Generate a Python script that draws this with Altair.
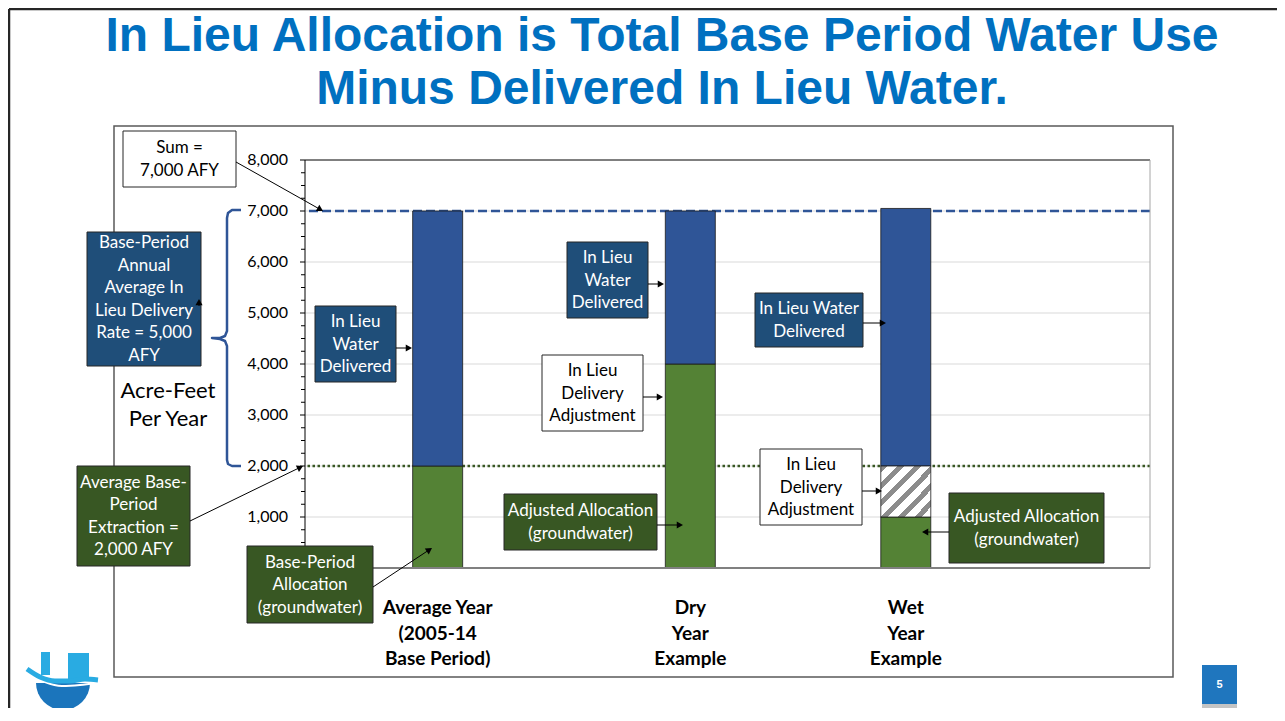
import math
import altair as alt
import pandas as pd

# ---------------- data ----------------
categories = ["Average Year", "Dry Year Example", "Wet Year Example"]
category_slot = [1.57, 4.56, 7.11]          # position of each bar on the x axis
groundwater_af = [2000, 4000, 1000]          # green (allocation, groundwater)
adjustment_af = [0, 0, 1000]                 # hatched (in lieu delivery adjustment)
in_lieu_af = [5000, 3000, 5050]              # blue (in lieu water delivered)
sum_afy = 7000
base_extraction_afy = 2000
y_tick_values = [0, 1000, 2000, 3000, 4000, 5000, 6000, 7000, 8000]
y_tick_labels = ["", "1,000", "2,000", "3,000", "4,000", "5,000", "6,000", "7,000", "8,000"]
minor_tick_values = [v for v in range(0, 8001, 250) if v % 1000 != 0]
x_label_lines = [["Average Year", "(2005-14", "Base Period)"],
                 ["Dry", "Year", "Example"],
                 ["Wet", "Year", "Example"]]
title_lines = ["In Lieu Allocation is Total Base Period Water Use",
               "Minus Delivered In Lieu Water."]

# ---------------- layout ----------------
PX0, PY0, PW, PH = 305, 160, 845, 408
XMAX, YMAX = 10.0, 8000.0
BAR_PX = 50
FONT = "Lato"

BAR_BLUE = "#2F5597"
BAR_GREEN = "#548235"
BOX_BLUE = "#1F4E79"
BOX_GREEN = "#385723"
TITLE_BLUE = "#0070C0"


def X(px):
    return (px - PX0) / PW * XMAX


def Y(py):
    return (PY0 + PH - py) / PH * YMAX


xs = alt.Scale(domain=[0, XMAX], nice=False, zero=False)
ys = alt.Scale(domain=[0, YMAX], nice=False, zero=False)


def ex(f):
    return alt.X(f"{f}:Q", scale=xs, axis=None)


def ey(f):
    return alt.Y(f"{f}:Q", scale=ys, axis=None)


half_w = BAR_PX / 2 / PW * XMAX

# ---- bars ----
rows = []
for c, s, g, a, l in zip(categories, category_slot, groundwater_af, adjustment_af, in_lieu_af):
    rows.append(dict(cat=c, part="green", x0=s - half_w, x1=s + half_w, y0=0, y1=g))
    if a > 0:
        rows.append(dict(cat=c, part="hatch", x0=s - half_w, x1=s + half_w, y0=g, y1=g + a))
    rows.append(dict(cat=c, part="blue", x0=s - half_w, x1=s + half_w, y0=g + a, y1=g + a + l))
bars_df = pd.DataFrame(rows)

solid_bars = alt.Chart(bars_df).transform_filter("datum.part != 'hatch'").mark_rect(
    stroke="#1a1a1a", strokeWidth=0.8
).encode(
    x=ex("x0"), x2="x1", y=ey("y0"), y2="y1",
    fill=alt.Fill("part:N", scale=alt.Scale(domain=["green", "blue"], range=[BAR_GREEN, BAR_BLUE]), legend=None),
)

stops = []
n_stripes = 6
for k in range(n_stripes):
    a0 = k / n_stripes
    a1 = (k + 0.42) / n_stripes
    a2 = (k + 1) / n_stripes
    stops += [alt.GradientStop(color="#8C8C8C", offset=a0), alt.GradientStop(color="#8C8C8C", offset=a1),
              alt.GradientStop(color="white", offset=a1), alt.GradientStop(color="white", offset=a2)]
hatch_fill = alt.Gradient(gradient="linear", stops=stops, x1=0, y1=0, x2=1, y2=1)
hatch_bars = alt.Chart(bars_df).transform_filter("datum.part == 'hatch'").mark_rect(
    fill=hatch_fill, stroke="#1a1a1a", strokeWidth=0.8
).encode(x=ex("x0"), x2="x1", y=ey("y0"), y2="y1")

# ---- y axis (drawn by hand: grid, ticks, labels, domain) ----
ytick_df = pd.DataFrame({"v": y_tick_values, "lab": y_tick_labels})
grid = alt.Chart(ytick_df).transform_filter("datum.v > 0 && datum.v < 8000").mark_rule(
    color="#D9D9D9", strokeWidth=1).encode(y=ey("v"))
major_ticks = alt.Chart(ytick_df).mark_rule(color="black", strokeWidth=1).encode(
    y=ey("v"), x=alt.value(-5), x2=alt.value(0))
minor_ticks = alt.Chart(pd.DataFrame({"v": minor_tick_values})).mark_rule(
    color="black", strokeWidth=1).encode(y=ey("v"), x=alt.value(-4), x2=alt.value(0))
y_labels = alt.Chart(ytick_df).mark_text(font=FONT, fontSize=16, color="black", align="right",
                                         baseline="middle").encode(
    y=ey("v"), x=alt.value(-17), text="lab:N")
y_domain = alt.Chart(pd.DataFrame({"a": [0], "b": [YMAX]})).mark_rule(color="black", strokeWidth=1).encode(
    x=alt.value(0), y=ey("a"), y2="b")

# ---- reference lines ----
sum_line = alt.Chart(pd.DataFrame({"v": [sum_afy]})).mark_rule(
    color=BAR_BLUE, strokeWidth=2.5, strokeDash=[9, 4]).encode(y=ey("v"))
base_line = alt.Chart(pd.DataFrame({"v": [base_extraction_afy]})).mark_rule(
    color=BOX_GREEN, strokeWidth=2.5, strokeDash=[2.5, 2.5]).encode(y=ey("v"))

top_border = alt.Chart(pd.DataFrame({"v": [YMAX]})).mark_rule(color="black", strokeWidth=1).encode(y=ey("v"))
bottom_border = alt.Chart(pd.DataFrame({"v": [0]})).mark_rule(color="#808080", strokeWidth=2).encode(y=ey("v"))
right_border = alt.Chart(pd.DataFrame({"v": [XMAX]})).mark_rule(color="#A6A6A6", strokeWidth=1).encode(x=ex("v"))

# ---- frames ----
frame_df = pd.DataFrame([dict(x0=X(114), x1=X(1173), y0=Y(126), y1=Y(677))])
frame = alt.Chart(frame_df).mark_rect(fill="white", fillOpacity=0, stroke="#595959", strokeWidth=1.5).encode(
    x=ex("x0"), x2="x1", y=ey("y0"), y2="y1")

slide_df = pd.DataFrame([
    dict(x0=X(9), y0=Y(9), x1=X(1285), y1=Y(9)),
    dict(x0=X(9), y0=Y(9), x1=X(9), y1=Y(721)),
])
slide_border = alt.Chart(slide_df).mark_rule(color="#262626", strokeWidth=2.5).encode(
    x=ex("x0"), x2="x1", y=ey("y0"), y2="y1")

# ---- annotation boxes ----
BOX_FS, BOX_LH = 17, 22.5
boxes = [
    (123, 131, 236, 187, "white", ["Sum =", "7,000 AFY"], "black"),
    (87, 232, 201, 366, BOX_BLUE, ["Base-Period", "Annual", "Average In", "Lieu Delivery", "Rate = 5,000", "AFY"], "white"),
    (77, 466, 190, 566, BOX_GREEN, ["Average Base-", "Period", "Extraction =", "2,000 AFY"], "white"),
    (247, 546, 373, 623, BOX_GREEN, ["Base-Period", "Allocation", "(groundwater)"], "white"),
    (315, 306, 396, 382, BOX_BLUE, ["In Lieu", "Water", "Delivered"], "white"),
    (567, 242, 648, 318, BOX_BLUE, ["In Lieu", "Water", "Delivered"], "white"),
    (542, 355, 643, 431, "white", ["In Lieu", "Delivery", "Adjustment"], "black"),
    (504, 494, 657, 550, BOX_GREEN, ["Adjusted Allocation", "(groundwater)"], "white"),
    (755, 293, 863, 347, BOX_BLUE, ["In Lieu Water", "Delivered"], "white"),
    (760, 449, 862, 525, "white", ["In Lieu", "Delivery", "Adjustment"], "black"),
    (949, 493, 1104, 563, BOX_GREEN, ["Adjusted Allocation", "(groundwater)"], "white"),
]
box_df = pd.DataFrame([dict(x0=X(b[0]), y0=Y(b[1]), x1=X(b[2]), y1=Y(b[3]), fill=b[4],
                            cx=X((b[0] + b[2]) / 2),
                            cy=Y((b[1] + b[3]) / 2 + 0.5 - (len(b[5]) - 1) * BOX_LH / 2),
                            txt="\n".join(b[5]), tc=b[6]) for b in boxes])
box_rects = alt.Chart(box_df).mark_rect(stroke="#262626", strokeWidth=1).encode(
    x=ex("x0"), x2="x1", y=ey("y0"), y2="y1", fill=alt.Fill("fill:N", scale=None))
box_texts = alt.Chart(box_df).mark_text(font=FONT, fontSize=BOX_FS, lineBreak="\n", lineHeight=BOX_LH,
                                        align="center", baseline="middle").encode(
    x=ex("cx"), y=ey("cy"), text="txt:N", color=alt.Color("tc:N", scale=None))

# ---- arrows ----
arrows = [
    (236, 162, 323, 211), (190, 521, 303, 466), (373, 587, 432, 548), (396, 348, 412, 348),
    (648, 284, 664, 284), (643, 397, 663, 397), (657, 525, 683, 525), (863, 323, 886, 323),
    (862, 491, 882, 491), (949, 532, 922, 532), (199, 306, 199, 299),
]
ARROW_SIZE = 52
r = math.sqrt(ARROW_SIZE) / 2
h = 0.866 * r
arrow_rows, head_rows = [], []
for x0, y0, x1, y1 in arrows:
    dx, dy = x1 - x0, y1 - y0
    L = math.hypot(dx, dy)
    ux, uy = dx / L, dy / L
    arrow_rows.append(dict(x0=X(x0), y0=Y(y0), x1=X(x1 - ux * 2), y1=Y(y1 - uy * 2)))
    ang = math.degrees(math.atan2(dx, -dy)) % 360
    head_rows.append(dict(hx=X(x1 - ux * h), hy=Y(y1 - uy * h), ang=ang))
arrow_lines = alt.Chart(pd.DataFrame(arrow_rows)).mark_rule(color="black", strokeWidth=1).encode(
    x=ex("x0"), x2="x1", y=ey("y0"), y2="y1")
arrow_heads = alt.Chart(pd.DataFrame(head_rows)).mark_point(
    shape="triangle-up", filled=True, color="black", size=ARROW_SIZE, opacity=1).encode(
    x=ex("hx"), y=ey("hy"), angle=alt.Angle("ang:Q", scale=None))

# ---- brace ----
brace_pts = [(241, 210), (232, 210), (228, 213), (227, 218), (227, 331), (225, 336), (220, 338), (212, 338),
             (220, 339), (225, 341), (227, 346), (227, 460), (228, 464), (232, 466), (241, 466)]
brace_df = pd.DataFrame([dict(o=i, bx=X(p[0]), by=Y(p[1])) for i, p in enumerate(brace_pts)])
brace = alt.Chart(brace_df).mark_line(color=BAR_BLUE, strokeWidth=2.5, strokeJoin="round").encode(
    x=ex("bx"), y=ey("by"), order="o:Q")

# ---- free texts ----
ACRE_LH = 28
acre_df = pd.DataFrame([dict(tx=X(168), ty=Y(391), txt="Acre-Feet\nPer Year")])
acre = alt.Chart(acre_df).mark_text(font=FONT, fontSize=22, lineBreak="\n", lineHeight=ACRE_LH,
                                    align="center", baseline="middle", color="black").encode(
    x=ex("tx"), y=ey("ty"), text="txt:N")

xlab_df = pd.DataFrame([dict(s=s, ty=Y(608), txt="\n".join(l)) for s, l in zip(category_slot, x_label_lines)])
xlabels = alt.Chart(xlab_df).mark_text(font=FONT, fontSize=19, fontWeight="bold", lineBreak="\n",
                                       lineHeight=25.5, align="center", baseline="middle",
                                       color="black").encode(x=ex("s"), y=ey("ty"), text="txt:N")

title_df = pd.DataFrame([dict(tx=X(662), ty=Y(51), txt=title_lines[0]),
                         dict(tx=X(662), ty=Y(104), txt=title_lines[1])])
title = alt.Chart(title_df).mark_text(font="Liberation Sans", fontSize=48, fontWeight="bold",
                                      align="center", baseline="alphabetic", color=TITLE_BLUE).encode(
    x=ex("tx"), y=ey("ty"), text="txt:N")

# ---- page number ----
page_rects_df = pd.DataFrame([dict(x0=X(1202), x1=X(1237), y0=Y(665), y1=Y(704), c="#1F76BE"),
                              dict(x0=X(1202), x1=X(1237), y0=Y(704), y1=Y(716), c="#C4C4C4")])
page_rects = alt.Chart(page_rects_df).mark_rect().encode(
    x=ex("x0"), x2="x1", y=ey("y0"), y2="y1", fill=alt.Fill("c:N", scale=None))
page_text = alt.Chart(pd.DataFrame([dict(tx=X(1219.5), ty=Y(685), txt="5")])).mark_text(
    font="Liberation Sans", fontSize=11, fontWeight="bold", color="white",
    align="center", baseline="middle").encode(x=ex("tx"), y=ey("ty"), text="txt:N")

# ---- logo (approximation) ----
logo_rects_df = pd.DataFrame([dict(x0=X(68), x1=X(89), y0=Y(653), y1=Y(680), c="#29ABE2"),
                              dict(x0=X(41), x1=X(50), y0=Y(652), y1=Y(675), c="#29ABE2")])
logo_rects = alt.Chart(logo_rects_df).mark_rect().encode(
    x=ex("x0"), x2="x1", y=ey("y0"), y2="y1", fill=alt.Fill("c:N", scale=None))
logo_bowl = alt.Chart(pd.DataFrame([dict(cx=X(63), cy=Y(683))])).mark_arc(
    radius=27, radius2=0, theta=math.pi / 2, theta2=3 * math.pi / 2, color="#1B75BC").encode(
    x=ex("cx"), y=ey("cy"))
wave_pts = [(27, 669), (40, 677), (55, 681), (70, 681), (85, 679), (98, 680)]
wave_df = pd.DataFrame([dict(o=i, wx=X(p[0]), wy=Y(p[1])) for i, p in enumerate(wave_pts)])
logo_wave = alt.Chart(wave_df).mark_line(color="#29ABE2", strokeWidth=5, interpolate="monotone").encode(
    x=ex("wx"), y=ey("wy"), order="o:Q")
wave2_pts = [(30, 674), (45, 682), (62, 686), (80, 685), (96, 683)]
wave2_df = pd.DataFrame([dict(o=i, wx=X(p[0]), wy=Y(p[1])) for i, p in enumerate(wave2_pts)])
logo_wave2 = alt.Chart(wave2_df).mark_line(color="white", strokeWidth=2, interpolate="monotone").encode(
    x=ex("wx"), y=ey("wy"), order="o:Q")

chart = alt.layer(
    frame, slide_border, grid, sum_line, base_line, solid_bars, hatch_bars,
    top_border, right_border, bottom_border, y_domain, major_ticks, minor_ticks, y_labels,
    box_rects, box_texts, arrow_lines, arrow_heads, brace, acre, xlabels, title,
    page_rects, page_text, logo_rects, logo_bowl, logo_wave2, logo_wave,
).properties(
    width=PW, height=PH,
    padding={"left": PX0 - 8, "top": PY0 - 8, "right": 1269 - (PX0 - 8) - PW, "bottom": 140},
    autosize=alt.AutoSizeParams(type="none"),
).configure_view(stroke=None)

chart.save("out.html", embed_options={"renderer": "svg", "actions": False})
